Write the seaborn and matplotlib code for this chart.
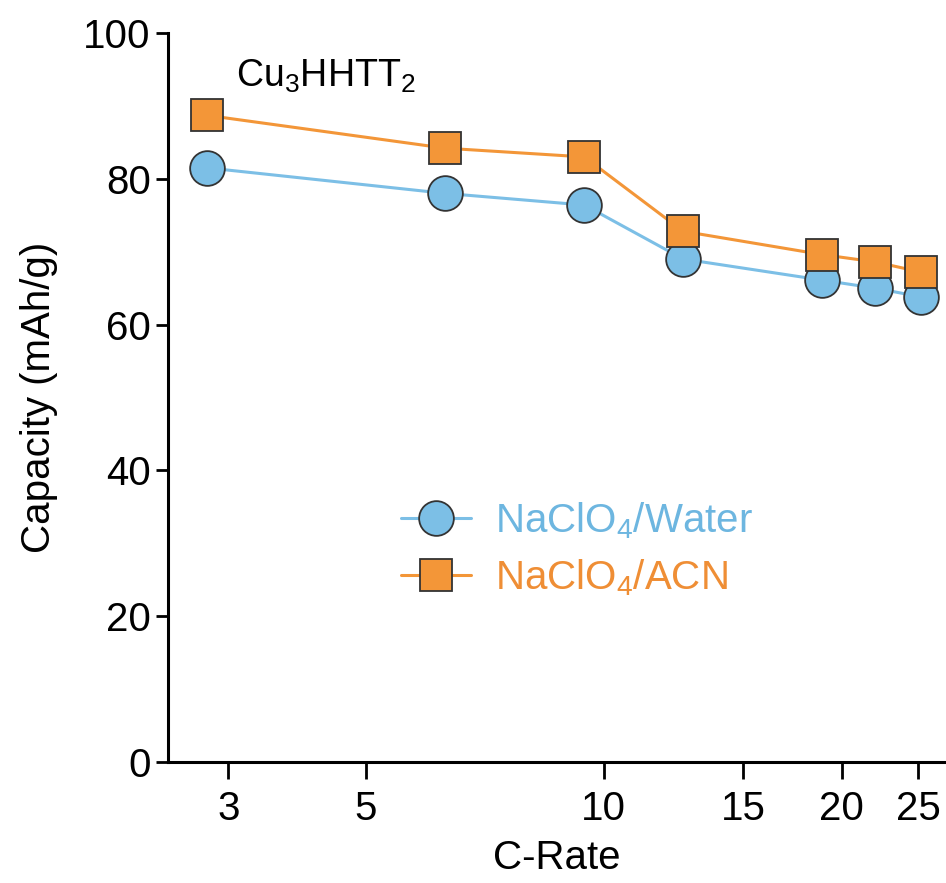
import matplotlib
matplotlib.use("Agg")
import matplotlib.pyplot as plt
import seaborn as sns
import pandas as pd
from matplotlib.ticker import FixedLocator, FixedFormatter, NullLocator

sns.set_style("ticks")
plt.rcParams['font.family'] = ['Liberation Sans', 'DejaVu Sans']
plt.rcParams['mathtext.fontset'] = 'custom'
plt.rcParams['mathtext.rm'] = 'Liberation Sans'
plt.rcParams['mathtext.it'] = 'Liberation Sans'
plt.rcParams['text.color'] = 'black'
plt.rcParams['axes.labelcolor'] = 'black'

c_rate = [3.15, 6.3, 9.45, 12.6, 18.9, 22.05, 25.2]
water = [81.5, 78.0, 76.4, 69.0, 66.1, 65.0, 63.8]
acn = [88.7, 84.2, 83.0, 72.8, 69.6, 68.6, 67.2]
xtick_pos = [3.35, 5, 10, 15, 20, 25]
xtick_labels = ["3", "5", "10", "15", "20", "25"]
yticks = [0, 20, 40, 60, 80, 100]

blue = "#7CBFE6"
orange = "#F39638"
blue_txt = "#6DB6E0"
orange_txt = "#EF8E35"

df_w = pd.DataFrame({"x": c_rate, "y": water})
df_a = pd.DataFrame({"x": c_rate, "y": acn})

fig = plt.figure(figsize=(9.46, 8.83), dpi=100)
ax = fig.add_axes([168/946, 121/883, 778/946, 729/883])

sns.lineplot(data=df_w, x="x", y="y", ax=ax, color=blue, lw=2.2, marker="o",
             markersize=25, markerfacecolor=blue, markeredgecolor="#333333",
             markeredgewidth=1.3, label="NaClO$_4$/Water", clip_on=False, zorder=3)
sns.lineplot(data=df_a, x="x", y="y", ax=ax, color=orange, lw=2.2, marker="s",
             markersize=23, markerfacecolor=orange, markeredgecolor="#333333",
             markeredgewidth=1.3, label="NaClO$_4$/ACN", clip_on=False, zorder=3)

ax.set_xscale("log")
ax.set_xlim(2.81, 27.1)
ax.set_ylim(0, 100)
ax.xaxis.set_major_locator(FixedLocator(xtick_pos))
ax.xaxis.set_major_formatter(FixedFormatter(xtick_labels))
ax.xaxis.set_minor_locator(NullLocator())
ax.set_yticks(yticks)

for s in ["top", "right"]:
    ax.spines[s].set_visible(False)
for s in ["left", "bottom"]:
    ax.spines[s].set_linewidth(2.2)
    ax.spines[s].set_color("black")

ax.tick_params(axis="x", which="major", length=12, width=2, labelsize=29, pad=8, colors="black")
ax.tick_params(axis="y", which="major", length=8.5, width=2, labelsize=29, pad=4, colors="black")

ax.set_xlabel("C-Rate", fontsize=29, labelpad=8, color="black")
ax.set_ylabel("Capacity (mAh/g)", fontsize=29, labelpad=18, color="black")

ax.text(0.088, 0.94, "Cu$_3$HHTT$_2$", transform=ax.transAxes, fontsize=27,
        ha="left", va="center", color="black")

leg = ax.legend(loc="center left", bbox_to_anchor=(0.273, 0.292), frameon=False,
                fontsize=29, handlelength=1.75, handletextpad=0.6, labelspacing=0.42,
                borderpad=0)
for t, c in zip(leg.get_texts(), [blue_txt, orange_txt]):
    t.set_color(c)

fig.savefig("out.png", dpi=100)
